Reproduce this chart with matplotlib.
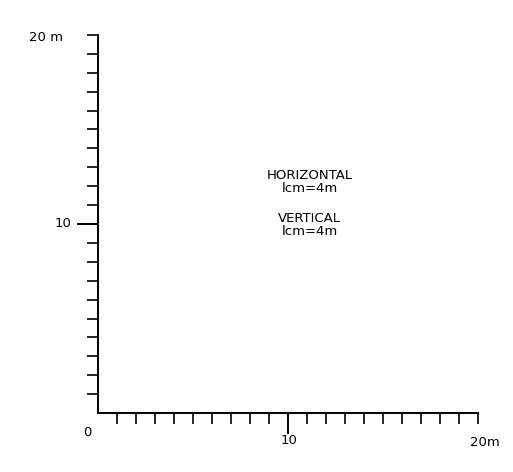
import matplotlib
matplotlib.use("Agg")
import matplotlib.pyplot as plt
import numpy as np

# scale bar: metres along each axis
xMax = 20
yMax = 20
minorTicks = [1, 2, 3, 4, 5, 6, 7, 8, 9, 11, 12, 13, 14, 15, 16, 17, 18, 19, 20]
majorTicks = [10]
xLabels = ["0", "10", "20m"]
yLabels = ["10", "20 m"]
scaleNotes = ["HORIZONTAL\nlcm=4m", "VERTICAL\nlcm=4m"]

fig = plt.figure(figsize=(5.13, 4.72), dpi=100)
ax = fig.add_axes([98/513, 1-413/472, 380/513, 378/472])
ax.set_xlim(0, xMax)
ax.set_ylim(0, yMax)
ax.spines["top"].set_visible(False)
ax.spines["right"].set_visible(False)
for s in ["left", "bottom"]:
    ax.spines[s].set_linewidth(1.4)
    ax.spines[s].set_color("black")

ax.set_xticks(majorTicks)
ax.set_yticks(majorTicks)
ax.set_xticks(minorTicks, minor=True)
ax.set_yticks(minorTicks, minor=True)
ax.tick_params(which="major", direction="out", length=15, width=1.4, labelbottom=False, labelleft=False)
ax.tick_params(which="minor", direction="out", length=8, width=1.2)

font = {"family": "DejaVu Sans", "size": 9.5, "color": "black", "fontweight": "medium"}
ax.text(-0.55, -1.05, xLabels[0], ha="center", va="center", **font)
ax.text(10.05, -1.45, xLabels[1], ha="center", va="center", **font)
ax.text(20.35, -1.55, xLabels[2], ha="center", va="center", **font)
ax.text(-1.4, 10.0, yLabels[0], ha="right", va="center", **font)
ax.text(-1.85, 19.85, yLabels[1], ha="right", va="center", **font)

ax.text(11.15, 12.2, scaleNotes[0], ha="center", va="center", linespacing=1.0, **font)
ax.text(11.15, 9.95, scaleNotes[1], ha="center", va="center", linespacing=1.0, **font)

fig.savefig("out.png", dpi=100)
